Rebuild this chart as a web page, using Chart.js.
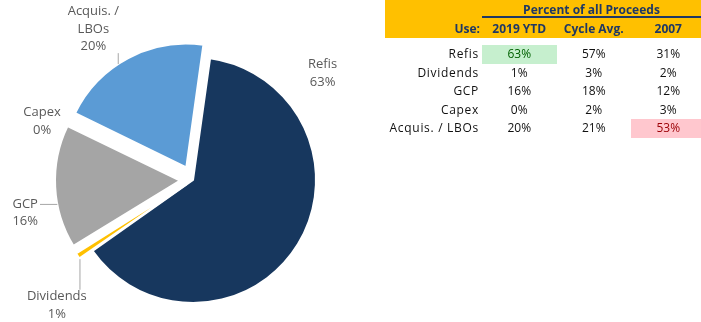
<!DOCTYPE html>
<html>
<head>
<meta charset="utf-8">
<script src="https://cdn.jsdelivr.net/npm/chart.js@4.4.1/dist/chart.umd.min.js"></script>
<style>
  body { margin: 0; width: 701px; height: 322px; background: #fff; overflow: hidden; position: relative; font-family: "Open Sans", sans-serif; }
  #pieBox { position: absolute; left: 0; top: 0; width: 386px; height: 322px; }
  #tbl { position: absolute; left: 385px; top: 0; width: 316px; height: 140px; overflow: hidden; }
  .band { position: absolute; left: 0; top: 0; width: 316px; height: 38px; background: #FFC000; }
  .rule { position: absolute; left: 97px; top: 16px; width: 219px; height: 2px; background: #1F3864; }
  .cell { position: absolute; font-size: 12px; white-space: nowrap; color: #111; }
  .use { letter-spacing: 0.7px; }
  .head { font-weight: bold; color: #1F3864; }
  .good { background: #C6EFCE; color: #006100; }
  .bad { background: #FFC7CE; color: #9C0006; }
</style>
</head>
<body>
<div id="pieBox"><canvas id="pie" width="386" height="322"></canvas></div>
<div id="tbl"></div>
<script>
const uses = ["Refis", "Dividends", "GCP", "Capex", "Acquis. / LBOs"];
const pieLabels = ["Refis", "Dividends", "GCP", "Capex", "Acquis. /\nLBOs"];
const ytd = [63, 1, 16, 0, 20];
const cycleAvg = [57, 3, 18, 2, 21];
const y2007 = [31, 2, 12, 3, 53];
const columns = ["2019 YTD", "Cycle Avg.", "2007"];

const sliceColors = ["#17375E", "#FFC000", "#A5A5A5", "#4472C4", "#5B9BD5"];
// label block centre: [degrees clockwise from 12 o'clock, px from pie centre]
const labelSpots = [[50.5, 168], [227.4, 185], [258.9, 171], [291.3, 162], [326.6, 181]];
const leaders = [false, true, true, false, true];
const explodePx = 15;

const total = ytd.reduce((s, v) => s + v, 0);

// chart.js moves an arc by offset/4 * (2 - sin(angle)), so invert that
function sliceOffset(c) {
  if (c.type !== "data" || c.dataIndex === 0) return 0;
  const circ = Math.PI * 2 * c.raw / total;
  const fix = 1 - Math.sin(Math.min(Math.PI, circ));
  return explodePx * 4 / (1 + fix);
}

const sliceLabels = {
  id: "sliceLabels",
  afterDatasetsDraw(chart) {
    const ctx = chart.ctx;
    const meta = chart.getDatasetMeta(0);
    ctx.save();
    ctx.font = "13px 'Open Sans'";
    ctx.textAlign = "center";
    ctx.textBaseline = "middle";
    meta.data.forEach((arc, i) => {
      const p = arc.getProps(["x", "y", "startAngle", "endAngle", "outerRadius", "circumference"]);
      const lines = pieLabels[i].split("\n").concat(ytd[i] + "%");
      const a = labelSpots[i][0] * Math.PI / 180;
      const lx = p.x + Math.sin(a) * labelSpots[i][1];
      const ly = p.y - Math.cos(a) * labelSpots[i][1];
      const lh = 17.5;
      const w = Math.max(...lines.map(t => ctx.measureText(t).width));
      const h = lines.length * lh;

      if (leaders[i]) {
        const mid = (p.startAngle + p.endAngle) / 2;
        const off = arc.options.offset / 4;
        const shift = off + off * (1 - Math.sin(Math.min(Math.PI, p.circumference)));
        const sx = p.x + Math.cos(mid) * shift;
        const sy = p.y + Math.sin(mid) * shift;
        const t = Math.min(Math.max(a - Math.PI / 2, p.startAngle), p.endAngle);
        const ax = sx + Math.cos(t) * p.outerRadius;
        const ay = sy + Math.sin(t) * p.outerRadius;
        const bx = Math.min(Math.max(ax, lx - w / 2 - 2), lx + w / 2 + 2);
        const by = Math.min(Math.max(ay, ly - h / 2 + 2), ly + h / 2 - 2);
        ctx.strokeStyle = "#A6A6A6";
        ctx.lineWidth = 1;
        ctx.beginPath();
        ctx.moveTo(ax, ay);
        ctx.lineTo(bx, by);
        ctx.stroke();
      }

      ctx.fillStyle = "#595959";
      lines.forEach((t, k) => ctx.fillText(t, lx, ly - h / 2 + lh / 2 + k * lh));
    });
    ctx.restore();
  }
};

new Chart(document.getElementById("pie"), {
  type: "pie",
  data: {
    labels: uses,
    datasets: [{
      data: ytd,
      backgroundColor: sliceColors,
      borderColor: "#fff",
      borderWidth: 2,
      offset: sliceOffset,
      hoverOffset: 0
    }]
  },
  options: {
    responsive: false,
    animation: false,
    rotation: 8,
    radius: 123,
    layout: { padding: { top: 38 } },
    plugins: { legend: { display: false }, tooltip: { enabled: false } },
    events: []
  },
  plugins: [sliceLabels]
});

// table of proceeds by use
const tbl = document.getElementById("tbl");
const colLeft = [97, 171.5, 246];
const colW = 74.5;
const rowTop = 45, rowH = 18.5;
const highlight = { "0,0": "good", "4,2": "bad" };

function cell(text, left, top, width, height, align, cls) {
  const d = document.createElement("div");
  d.className = "cell " + (cls || "");
  d.textContent = text;
  Object.assign(d.style, {
    left: left + "px", top: top + "px", width: width + "px", height: height + "px",
    lineHeight: height + "px", textAlign: align
  });
  tbl.appendChild(d);
}

tbl.innerHTML = '<div class="band"></div><div class="rule"></div>';
cell("Percent of all Proceeds", 97, 1, 219, 18, "center", "head");
cell("Use:", 0, 20, 95, 18, "right", "head");
columns.forEach((c, k) => cell(c, colLeft[k], 20, colW, 18, "center", "head"));

[ytd, cycleAvg, y2007].forEach((col, k) => {
  col.forEach((v, i) => cell(v + "%", colLeft[k], rowTop + i * rowH, colW, rowH, "center", highlight[i + "," + k]));
});
uses.forEach((u, i) => cell(u, 0, rowTop + i * rowH, 94, rowH, "right", "use"));
</script>
</body>
</html>
